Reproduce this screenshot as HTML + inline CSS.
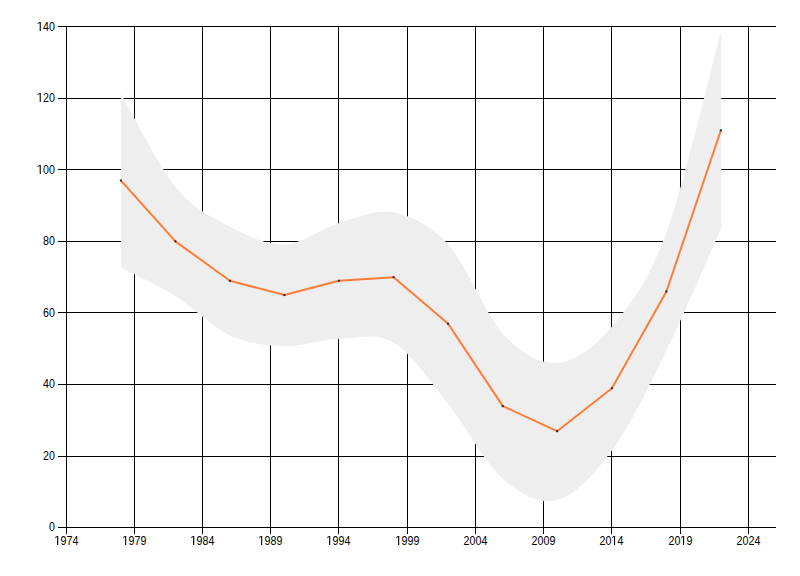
<!DOCTYPE html>
<html><head><meta charset="utf-8"><style>
html,body{margin:0;padding:0;background:#fff;width:800px;height:576px;overflow:hidden}
svg{display:block}
text{font-family:"Liberation Sans",sans-serif;font-size:12px;fill:#000}
</style></head><body>
<svg width="800" height="576" viewBox="0 0 800 576">
<g fill="#000" shape-rendering="crispEdges"><rect x="58" y="26" width="718" height="1"/><rect x="58" y="98" width="718" height="1"/><rect x="58" y="169" width="718" height="1"/><rect x="58" y="241" width="718" height="1"/><rect x="58" y="312" width="718" height="1"/><rect x="58" y="384" width="718" height="1"/><rect x="58" y="456" width="718" height="1"/><rect x="58" y="527" width="718" height="1"/><rect x="66" y="26" width="1" height="508"/><rect x="134" y="26" width="1" height="508"/><rect x="202" y="26" width="1" height="508"/><rect x="270" y="26" width="1" height="508"/><rect x="338" y="26" width="1" height="508"/><rect x="407" y="26" width="1" height="508"/><rect x="475" y="26" width="1" height="508"/><rect x="543" y="26" width="1" height="508"/><rect x="611" y="26" width="1" height="508"/><rect x="680" y="26" width="1" height="508"/><rect x="748" y="26" width="1" height="508"/></g>
<defs><clipPath id="cp"><rect x="120.9" y="0" width="600.4" height="576"/></clipPath></defs>
<g clip-path="url(#cp)"><path d="M120.80,94.48 C129.90,110.00 157.22,165.52 175.40,187.61 C193.58,209.70 211.73,217.46 229.90,227.01 C248.07,236.56 266.23,245.52 284.40,244.92 C302.57,244.32 320.70,228.80 338.90,223.43 C357.10,218.06 375.40,209.10 393.60,212.68 C411.80,216.27 429.90,224.62 448.10,244.92 C466.30,265.22 484.63,314.77 502.80,334.47 C520.97,354.17 538.92,364.32 557.10,363.13 C575.28,361.93 593.68,348.80 611.90,327.31 C630.12,305.82 648.23,283.13 666.40,234.18 C684.57,185.22 711.82,67.02 720.90,33.58 L720.90,227.01 C711.82,247.31 684.57,311.79 666.40,348.80 C648.23,385.81 630.12,424.02 611.90,449.10 C593.68,474.17 575.28,494.47 557.10,499.24 C538.92,504.02 520.97,493.87 502.80,477.75 C484.63,461.63 466.30,425.22 448.10,402.53 C429.90,379.84 411.80,352.38 393.60,341.64 C375.40,330.89 357.10,337.46 338.90,338.05 C320.70,338.65 302.57,345.81 284.40,345.22 C266.23,344.62 248.07,342.83 229.90,334.47 C211.73,326.11 193.58,306.41 175.40,295.07 C157.22,283.73 129.90,271.19 120.80,266.41 Z" fill="#eeeeee" stroke="#eeeeee" stroke-width="1.2" transform="translate(0,0.3)"/></g>
<path d="M120.80,180.45 L175.40,241.34 L229.90,280.74 L284.40,295.07 L338.90,280.74 L393.60,277.16 L448.10,323.73 L502.80,406.11 L557.10,431.19 L611.90,388.20 L666.40,291.49 L720.90,130.30" fill="none" stroke="#ff7c38" stroke-width="2" stroke-linejoin="round"/>
<g fill="#222a33"><rect x="119.80" y="179.45" width="2" height="2"/><rect x="174.40" y="240.34" width="2" height="2"/><rect x="228.90" y="279.74" width="2" height="2"/><rect x="283.40" y="294.07" width="2" height="2"/><rect x="337.90" y="279.74" width="2" height="2"/><rect x="392.60" y="276.16" width="2" height="2"/><rect x="447.10" y="322.73" width="2" height="2"/><rect x="501.80" y="405.11" width="2" height="2"/><rect x="556.10" y="430.19" width="2" height="2"/><rect x="610.90" y="387.20" width="2" height="2"/><rect x="665.40" y="290.49" width="2" height="2"/><rect x="719.90" y="129.30" width="2" height="2"/></g>
<g><g transform="translate(37.180,31) scale(0.89,1)"><text x="6.674 13.348" y="0">40</text><path d="M2.809,-9 L4.045,-9 L4.045,0 L2.809,0 Z M0.674,-8.1 L2.809,-9 L2.809,-7.9 L0.674,-7.1 Z"/></g><g transform="translate(37.180,102) scale(0.89,1)"><text x="6.674 13.348" y="0">20</text><path d="M2.809,-9 L4.045,-9 L4.045,0 L2.809,0 Z M0.674,-8.1 L2.809,-9 L2.809,-7.9 L0.674,-7.1 Z"/></g><g transform="translate(37.180,174) scale(0.89,1)"><text x="6.674 13.348" y="0">00</text><path d="M2.809,-9 L4.045,-9 L4.045,0 L2.809,0 Z M0.674,-8.1 L2.809,-9 L2.809,-7.9 L0.674,-7.1 Z"/></g><g transform="translate(43.120,245) scale(0.89,1)"><text x="0.000 6.674" y="0">80</text></g><g transform="translate(43.120,317) scale(0.89,1)"><text x="0.000 6.674" y="0">60</text></g><g transform="translate(43.120,388) scale(0.89,1)"><text x="0.000 6.674" y="0">40</text></g><g transform="translate(43.120,460) scale(0.89,1)"><text x="0.000 6.674" y="0">20</text></g><g transform="translate(49.060,531) scale(0.89,1)"><text x="0.000" y="0">0</text></g><g transform="translate(54.620,545) scale(0.89,1)"><text x="6.674 13.348 20.022" y="0">974</text><path d="M2.809,-9 L4.045,-9 L4.045,0 L2.809,0 Z M0.674,-8.1 L2.809,-9 L2.809,-7.9 L0.674,-7.1 Z"/></g><g transform="translate(122.620,545) scale(0.89,1)"><text x="6.674 13.348 20.022" y="0">979</text><path d="M2.809,-9 L4.045,-9 L4.045,0 L2.809,0 Z M0.674,-8.1 L2.809,-9 L2.809,-7.9 L0.674,-7.1 Z"/></g><g transform="translate(190.620,545) scale(0.89,1)"><text x="6.674 13.348 20.022" y="0">984</text><path d="M2.809,-9 L4.045,-9 L4.045,0 L2.809,0 Z M0.674,-8.1 L2.809,-9 L2.809,-7.9 L0.674,-7.1 Z"/></g><g transform="translate(258.620,545) scale(0.89,1)"><text x="6.674 13.348 20.022" y="0">989</text><path d="M2.809,-9 L4.045,-9 L4.045,0 L2.809,0 Z M0.674,-8.1 L2.809,-9 L2.809,-7.9 L0.674,-7.1 Z"/></g><g transform="translate(326.620,545) scale(0.89,1)"><text x="6.674 13.348 20.022" y="0">994</text><path d="M2.809,-9 L4.045,-9 L4.045,0 L2.809,0 Z M0.674,-8.1 L2.809,-9 L2.809,-7.9 L0.674,-7.1 Z"/></g><g transform="translate(395.620,545) scale(0.89,1)"><text x="6.674 13.348 20.022" y="0">999</text><path d="M2.809,-9 L4.045,-9 L4.045,0 L2.809,0 Z M0.674,-8.1 L2.809,-9 L2.809,-7.9 L0.674,-7.1 Z"/></g><g transform="translate(463.620,545) scale(0.89,1)"><text x="0.000 6.674 13.348 20.022" y="0">2004</text></g><g transform="translate(531.620,545) scale(0.89,1)"><text x="0.000 6.674 13.348 20.022" y="0">2009</text></g><g transform="translate(599.620,545) scale(0.89,1)"><text x="0.000 6.674 20.022" y="0">204</text><path d="M16.157,-9 L17.393,-9 L17.393,0 L16.157,0 Z M14.022,-8.1 L16.157,-9 L16.157,-7.9 L14.022,-7.1 Z"/></g><g transform="translate(668.620,545) scale(0.89,1)"><text x="0.000 6.674 20.022" y="0">209</text><path d="M16.157,-9 L17.393,-9 L17.393,0 L16.157,0 Z M14.022,-8.1 L16.157,-9 L16.157,-7.9 L14.022,-7.1 Z"/></g><g transform="translate(736.620,545) scale(0.89,1)"><text x="0.000 6.674 13.348 20.022" y="0">2024</text></g></g>
</svg>
</body></html>
